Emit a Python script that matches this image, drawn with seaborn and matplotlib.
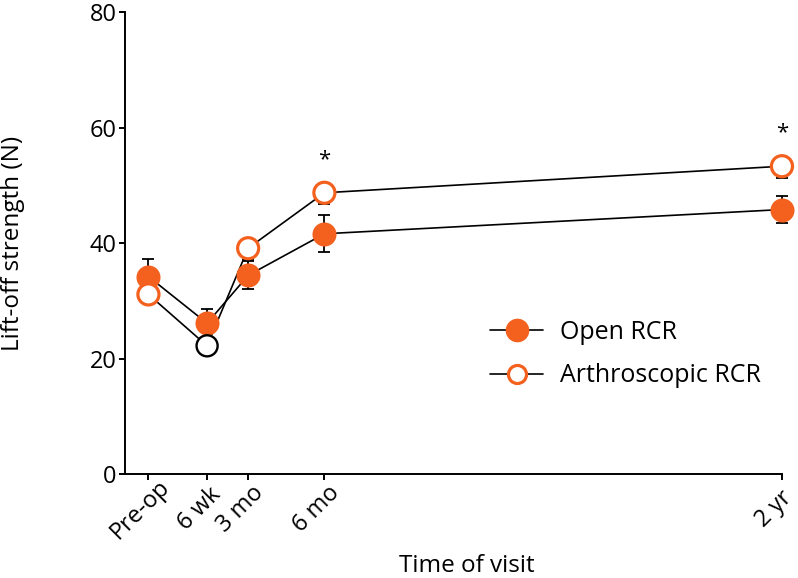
import seaborn as sns
import matplotlib.pyplot as plt
import matplotlib.transforms as mtransforms
import pandas as pd
from matplotlib.lines import Line2D

# Visits (x position in weeks after surgery)
visits = ["Pre-op", "6 wk", "3 mo", "6 mo", "2 yr"]
weeks = [-4, 6, 13, 26, 104]

# Lift-off strength (N)
open_mean = [34.2, 26.1, 34.4, 41.6, 45.8]
open_err = [3.0, 2.5, 2.4, 3.2, 2.4]
arthro_mean = [31.1, 22.2, 39.1, 48.7, 53.3]
arthro_err = [1.5, 1.5, 2.0, 2.0, 2.1]
signif = [False, False, False, True, True]

orange = "#F4611F"

df = pd.DataFrame({
    "weeks": weeks * 2,
    "strength": open_mean + arthro_mean,
    "group": ["Open RCR"] * 5 + ["Arthroscopic RCR"] * 5,
})

sns.set_style("ticks")
plt.rcParams["font.family"] = ["Open Sans", "DejaVu Sans"]
plt.rcParams.update({"text.color": "black", "axes.labelcolor": "black",
                     "xtick.color": "black", "ytick.color": "black"})

fig = plt.figure(figsize=(7.98, 5.78), dpi=100)
ax = fig.add_axes([0.1566, 0.1799, 0.8233, 0.7993])

# connecting lines
sns.lineplot(data=df, x="weeks", y="strength", units="group", estimator=None,
             color="black", linewidth=1.2, ax=ax, legend=False, zorder=1)

# error bars (open both ways, arthroscopic downward)
eb1 = ax.errorbar(weeks, open_mean, yerr=open_err, fmt="none", ecolor="black",
                  elinewidth=1.3, capsize=4, capthick=1.3, zorder=2)
eb2 = ax.errorbar(weeks, arthro_mean, yerr=[arthro_err, [0] * 5], fmt="none",
                  ecolor="black", elinewidth=1.3, capsize=4, capthick=1.3, zorder=2)

# markers
open_df = df[df["group"] == "Open RCR"]
arth_df = df[df["group"] == "Arthroscopic RCR"]
sns.scatterplot(data=open_df, x="weeks", y="strength", s=300, color=orange,
                edgecolor=orange, linewidth=0, ax=ax, zorder=3, legend=False,
                clip_on=False)
edge_cols = [orange, "black", orange, orange, orange]
ax.scatter(arth_df["weeks"], arth_df["strength"], s=230, facecolor="white",
           edgecolor=edge_cols, linewidth=[2.3, 1.7, 2.3, 2.3, 2.3], zorder=4,
           clip_on=False)
for ln in ax.lines:
    ln.set_clip_on(False)
for eb in (eb1, eb2):
    for art in eb.lines[1] + eb.lines[2]:
        art.set_clip_on(False)

# significance marks
for w, m, s in zip(weeks, arthro_mean, signif):
    if s:
        ax.text(w, m + 5.8, "*", ha="center", va="center", fontsize=16)

ax.set_xlim(-8, 104)
ax.set_ylim(0, 80)
ax.set_xticks(weeks)
ax.set_xticklabels([])
# rotated visit labels, centred a little left of / below each tick
lab_tr = (mtransforms.blended_transform_factory(ax.transData, ax.transAxes)
          + mtransforms.ScaledTranslation(-8 / 100, -35 / 100, fig.dpi_scale_trans))
for w, name in zip(weeks, visits):
    ax.text(w, 0, name, transform=lab_tr, rotation=45, ha="center",
            va="center", rotation_mode="anchor", fontsize=17, clip_on=False)

ax.set_yticks([0, 20, 40, 60, 80])
ax.tick_params(axis="y", labelsize=17, width=1.4, length=4, pad=2)
ax.tick_params(axis="x", width=1.4, length=4.5)
ax.set_xlabel("Time of visit", fontsize=17.5, va="center")
ax.xaxis.set_label_coords(0.52, -0.2)
ax.set_ylabel("Lift-off strength (N)", fontsize=17.5, va="center")
ax.yaxis.set_label_coords(-0.17, 0.5)
for sp in ["left", "bottom"]:
    ax.spines[sp].set_linewidth(1.4)
    ax.spines[sp].set_color("black")
sns.despine(ax=ax)

handles = [
    Line2D([0], [0], color="black", lw=1.2, marker="o", markersize=16,
           markerfacecolor=orange, markeredgecolor=orange),
    Line2D([0], [0], color="black", lw=1.2, marker="o", markersize=13,
           markerfacecolor="white", markeredgecolor=orange, markeredgewidth=2.3),
]
ax.legend(handles, ["Open RCR", "Arthroscopic RCR"], loc="upper left",
          bbox_to_anchor=(0.541, 0.356), frameon=False, fontsize=18,
          handlelength=2.1, labelspacing=0.75, handletextpad=0.7,
          borderaxespad=0)

fig.savefig("out.png", dpi=100)
